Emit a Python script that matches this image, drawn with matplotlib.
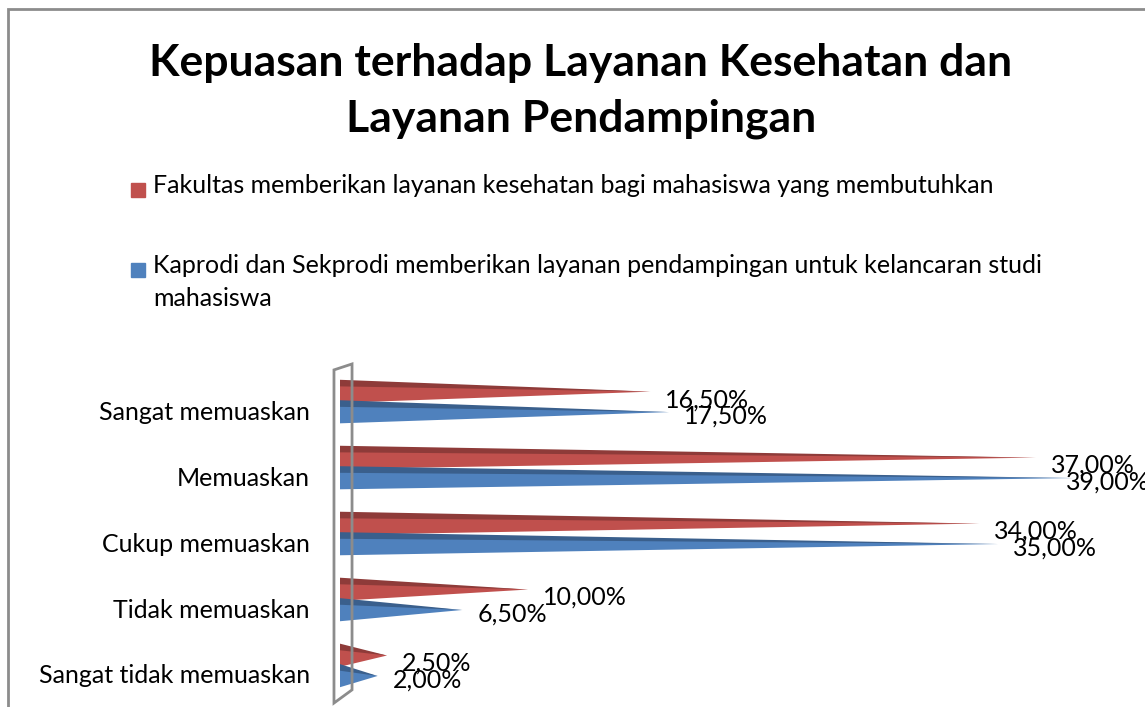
import matplotlib
matplotlib.use('Agg')
import matplotlib.pyplot as plt
from matplotlib.patches import Rectangle, Polygon

# Data
categories = ['Sangat memuaskan', 'Memuaskan', 'Cukup memuaskan',
              'Tidak memuaskan', 'Sangat tidak memuaskan']
fakultas = [16.5, 37.0, 34.0, 10.0, 2.5]
kaprodi = [17.5, 39.0, 35.0, 6.5, 2.0]
label_fakultas = 'Fakultas memberikan layanan kesehatan bagi mahasiswa yang membutuhkan'
label_kaprodi = 'Kaprodi dan Sekprodi memberikan layanan pendampingan untuk kelancaran studi\nmahasiswa'
title = 'Kepuasan terhadap Layanan Kesehatan dan\nLayanan Pendampingan'

red, red_dark = '#C0504D', '#8E3B39'
blue, blue_dark = '#4F81BD', '#3A5F8C'

plt.rcParams['font.family'] = ['Lato', 'DejaVu Sans']

W, H = 1145, 707
fig = plt.figure(figsize=(W / 100, H / 100), dpi=100)

# Chart frame
fig.patches.append(Rectangle((8 / W, -0.05), 1.1, (H - 9) / H + 0.05,
                             transform=fig.transFigure, fill=False,
                             edgecolor='#8C8C8C', linewidth=2))

# Axes: left at 340 px, top at 360 px
ax = fig.add_axes([340 / W, 0, 1 - 340 / W, (H - 360) / H])
xmax = (W - 340) / 18.8
ax.set_xlim(0, xmax)
ax.set_ylim(4.47, -0.79)
ax.axis('off')

bar_h = 0.31
shift = -0.14


def pyramid(val, top, color, dark):
    bot = top + bar_h
    tip = top + bar_h * 0.45
    ax.fill([0, val, 0], [top, tip, bot], color=color, lw=0)
    ax.fill([0, val, 0], [top - 0.04, tip, top + 0.06], color=dark, lw=0)


def label_x(v):
    # keep label inside the chart area, like Excel does
    return min(v + 0.8, xmax - 4.2)


for i, (f, k) in enumerate(zip(fakultas, kaprodi)):
    p = i + shift
    pyramid(f, p - bar_h, red, red_dark)
    pyramid(k, p, blue, blue_dark)
    ax.text(label_x(f), p - 0.05, f'{f:.2f}%'.replace('.', ','), fontsize=18,
            va='center', ha='left', clip_on=False)
    ax.text(label_x(k), p + 0.2, f'{k:.2f}%'.replace('.', ','), fontsize=18,
            va='center', ha='left', clip_on=False)
    ax.text(-1.6, i, categories[i], fontsize=18, va='center', ha='right')

# Side wall
wall = Polygon([(-0.32, -0.64), (0.64, -0.73), (0.64, 4.21), (-0.32, 4.41)],
               closed=True, fill=False, edgecolor='#8C8C8C', lw=2, clip_on=False)
ax.add_patch(wall)

# Title
fig.text(581 / W, 1 - 91 / H, title, fontsize=32, fontweight='bold',
         ha='center', va='center', linespacing=1.45)

# Legend
for y, c, txt in [(190, red, label_fakultas), (270, blue, label_kaprodi)]:
    fig.patches.append(Rectangle((131 / W, 1 - (y + 7) / H), 14 / W, 14 / H,
                                 transform=fig.transFigure, color=c))
    fig.text(153 / W, 1 - (y - 16) / H, txt, fontsize=18, ha='left', va='top',
             linespacing=1.5)

fig.savefig('out.png', dpi=100)
